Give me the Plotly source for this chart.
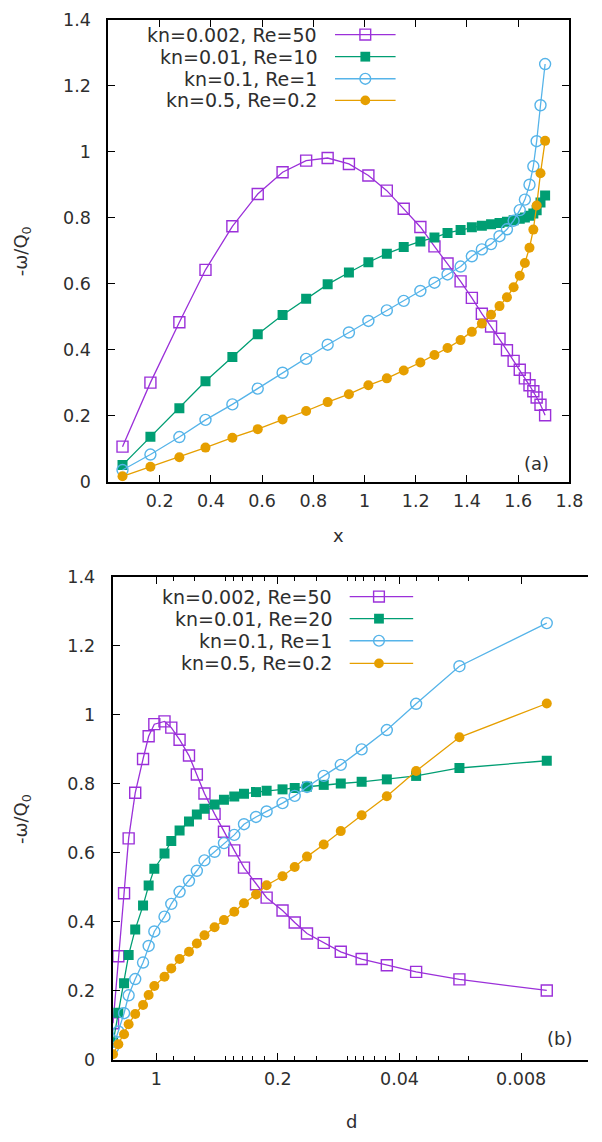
import plotly.graph_objects as go

# ---------------- data ----------------
x_a = [0.055, 0.164, 0.277, 0.379, 0.484, 0.583, 0.680, 0.772, 0.856, 0.939,
       1.015, 1.087, 1.153, 1.218, 1.273, 1.324, 1.375, 1.419, 1.458, 1.494,
       1.527, 1.556, 1.582, 1.606, 1.626, 1.644, 1.659, 1.672, 1.687, 1.705]

d_b = [1.77, 1.65, 1.53, 1.44, 1.32, 1.19, 1.105, 1.025, 0.896, 0.819,
       0.734, 0.648, 0.584, 0.528, 0.462, 0.408, 0.356, 0.313, 0.267, 0.232,
       0.188, 0.160, 0.136, 0.109, 0.087, 0.066, 0.0473, 0.0321, 0.0181, 0.0057]

y_kn0002 = [0.106, 0.300, 0.483, 0.642, 0.774, 0.872, 0.938, 0.973, 0.981, 0.963,
            0.928, 0.882, 0.827, 0.772, 0.713, 0.661, 0.607, 0.557, 0.509, 0.470,
            0.433, 0.398, 0.366, 0.339, 0.313, 0.292, 0.274, 0.255, 0.233, 0.201]
y_kn001 = [0.050, 0.136, 0.222, 0.304, 0.378, 0.447, 0.505, 0.554, 0.598, 0.634,
           0.665, 0.691, 0.711, 0.728, 0.740, 0.754, 0.763, 0.771, 0.776, 0.780,
           0.784, 0.788, 0.792, 0.797, 0.801, 0.806, 0.813, 0.823, 0.846, 0.867]
y_kn01 = [0.035, 0.082, 0.135, 0.187, 0.234, 0.282, 0.330, 0.372, 0.415, 0.452,
          0.487, 0.519, 0.548, 0.578, 0.603, 0.628, 0.652, 0.683, 0.704, 0.720,
          0.744, 0.765, 0.791, 0.823, 0.855, 0.900, 0.956, 1.032, 1.141, 1.266]
y_kn05 = [0.016, 0.045, 0.074, 0.103, 0.133, 0.159, 0.188, 0.214, 0.241, 0.265,
          0.292, 0.313, 0.337, 0.361, 0.384, 0.405, 0.429, 0.454, 0.479, 0.506,
          0.532, 0.559, 0.589, 0.624, 0.663, 0.709, 0.764, 0.837, 0.935, 1.033]

labels_a = ["kn=0.002, Re=50", "kn=0.01, Re=10", "kn=0.1, Re=1", "kn=0.5, Re=0.2"]
labels_b = ["kn=0.002, Re=50", "kn=0.01, Re=20", "kn=0.1, Re=1", "kn=0.5, Re=0.2"]

xtick_vals_a = [0.2, 0.4, 0.6, 0.8, 1.0, 1.2, 1.4, 1.6, 1.8]
xtick_text_a = ["0.2", "0.4", "0.6", "0.8", "1", "1.2", "1.4", "1.6", "1.8"]
dtick_vals = [1, 0.2, 0.04, 0.008]
dtick_text = ["1", "0.2", "0.04", "0.008"]
dminor_vals = [0.8, 0.6, 0.4, 0.36, 0.32, 0.28, 0.24,
               0.16, 0.12, 0.08, 0.072, 0.064, 0.056, 0.048,
               0.032, 0.024, 0.016]
ytick_vals = [0, 0.2, 0.4, 0.6, 0.8, 1.0, 1.2, 1.4]
ytick_text = ["0", "0.2", "0.4", "0.6", "0.8", "1", "1.2", "1.4"]

# ---------------- style ----------------
W, H = 602, 1142
FONT = "DejaVu Sans"
TXT = "#2e2e2e"
colors = ["#9b30d9", "#009e73", "#56b4e9", "#e69f00"]
symbols = ["square-open", "square", "circle-open", "circle"]
msizes = [11, 10, 11, 10]
series = [y_kn0002, y_kn001, y_kn01, y_kn05]


def px(x):
    return x / W


def py(y):
    return 1 - y / H


fig = go.Figure()

for xa, xr, yr in [(x_a, "x", "y"), (d_b, "x2", "y2")]:
    for i, ys in enumerate(series):
        open_ = symbols[i].endswith("open")
        fig.add_trace(go.Scatter(
            x=xa, y=ys, xaxis=xr, yaxis=yr, mode="lines+markers",
            line=dict(color=colors[i], width=1.3),
            marker=dict(symbol=symbols[i], size=msizes[i], color=colors[i],
                        line=dict(width=1.4 if open_ else 0, color=colors[i])),
            showlegend=False, cliponaxis=True, hoverinfo="skip",
        ))

tickfont = dict(family=FONT, size=17.5, color=TXT)
common = dict(showline=True, linewidth=2, linecolor="black", ticks="inside",
              ticklen=7, tickwidth=1, tickcolor="black", showgrid=False,
              zeroline=False, tickfont=tickfont)

fig.update_layout(
    width=W, height=H, margin=dict(l=0, r=0, t=0, b=0),
    paper_bgcolor="white", plot_bgcolor="white",
    xaxis=dict(domain=[px(111), px(583)], range=[0, 1.8], anchor="y",
               tickmode="array", tickvals=xtick_vals_a, ticktext=xtick_text_a,
               mirror="ticks", ticklabelstandoff=2, **common),
    yaxis=dict(domain=[py(480), py(10)], range=[0, 1.4], anchor="x",
               tickmode="array", tickvals=ytick_vals, ticktext=ytick_text,
               mirror="ticks", ticklabelstandoff=12, **common),
    xaxis2=dict(type="log", domain=[px(115.3), 1.0], range=[0.2504, -2.481],
                anchor="y2", tickmode="array", tickvals=dtick_vals,
                ticktext=dtick_text, mirror="ticks", ticklabelstandoff=2,
                minor=dict(tickmode="array", tickvals=dminor_vals, ticks="inside",
                           ticklen=4, tickwidth=1, tickcolor="black"),
                **common),
    yaxis2=dict(domain=[py(1068.5), py(577)], range=[0, 1.4], anchor="x2",
                tickmode="array", tickvals=ytick_vals, ticktext=ytick_text,
                mirror=False, ticklabelstandoff=12, **common),
    yaxis3=dict(overlaying="y2", side="right", anchor="x2", range=[0, 1.4],
                tickmode="array", tickvals=ytick_vals, ticks="inside", ticklen=7,
                tickwidth=1, tickcolor="black", showticklabels=False,
                showline=False, showgrid=False, zeroline=False),
)

annos = []
shapes = []
big = dict(family=FONT, size=18, color=TXT)

# axis titles
for (xc, yc) in [(22, 245), (22, 823)]:
    annos.append(dict(x=px(xc), y=py(yc), xref="paper", yref="paper",
                      text="-ω/Q<sub>0</sub>", showarrow=False, textangle=-90,
                      font=big, xanchor="center", yanchor="middle"))
annos.append(dict(x=px(347), y=py(535), xref="paper", yref="paper", text="x",
                  showarrow=False, font=big, xanchor="center", yanchor="middle"))
annos.append(dict(x=px(360), y=py(1131), xref="paper", yref="paper", text="d",
                  showarrow=False, font=big, xanchor="center", yanchor="middle"))
annos.append(dict(x=px(549), y=py(462), xref="paper", yref="paper", text="(a)",
                  showarrow=False, font=big, xanchor="center", yanchor="middle"))
annos.append(dict(x=px(573), y=py(1047), xref="paper", yref="paper", text="(b)",
                  showarrow=False, font=big, xanchor="center", yanchor="middle"))

# gnuplot-style keys (text left of sample)
legfont = dict(family=FONT, size=19, color=TXT)
key_specs = [
    (labels_a, [25, 47.5, 70, 92], 327, 343, 405, 374),
    (labels_b, [597, 619.5, 642, 665], 342, 358, 423, 388),
]
for labels, rows, tx, l0, l1, mx in key_specs:
    for i, (lab, ry) in enumerate(zip(labels, rows)):
        annos.append(dict(x=px(tx), y=py(ry), xref="paper", yref="paper",
                          text=lab, showarrow=False, font=legfont,
                          xanchor="right", yanchor="middle"))
        shapes.append(dict(type="line", xref="paper", yref="paper",
                           x0=px(l0), x1=px(l1), y0=py(ry), y1=py(ry),
                           line=dict(color=colors[i], width=1.3)))
        hs = msizes[i] / 2
        filled = not symbols[i].endswith("open")
        shp = "rect" if symbols[i].startswith("square") else "circle"
        shapes.append(dict(type=shp, xref="paper", yref="paper",
                           x0=px(mx - hs), x1=px(mx + hs),
                           y0=py(ry + hs), y1=py(ry - hs),
                           line=dict(color=colors[i], width=0 if filled else 1.4),
                           fillcolor=colors[i] if filled else "rgba(0,0,0,0)"))

fig.update_layout(annotations=annos, shapes=shapes)
fig.write_html(
    "out.html",
    config={"displayModeBar": False, "staticPlot": True},
    post_script="document.body.style.margin='0';document.body.style.overflow='hidden';",
)
